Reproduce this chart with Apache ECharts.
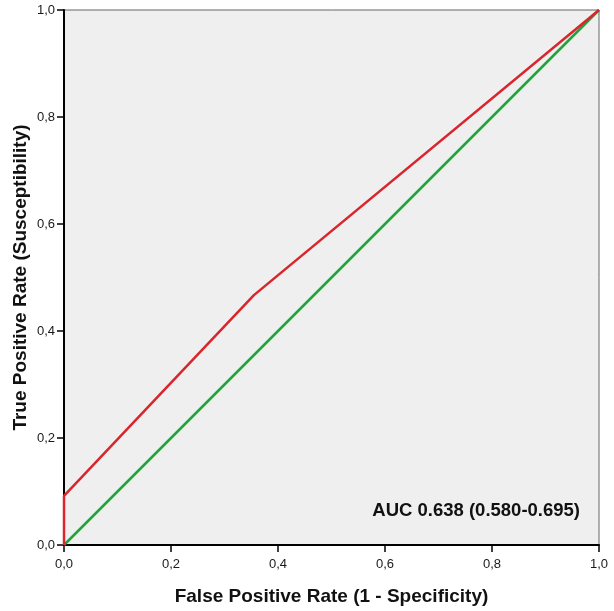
<!DOCTYPE html>
<html>
<head>
<meta charset="utf-8">
<script src="https://cdn.jsdelivr.net/npm/echarts@6/dist/echarts.min.js"></script>
<style>
  html, body { margin: 0; padding: 0; background: #fff; }
  #chart { width: 614px; height: 611px; }
</style>
</head>
<body>
<div id="chart"></div>
<script>
// ROC curve points (FPR, TPR)
const rocFpr = [0, 0, 0.355, 1];
const rocTpr = [0, 0.092, 0.467, 1];
// reference diagonal
const refFpr = [0, 1];
const refTpr = [0, 1];
const aucText = 'AUC 0.638 (0.580-0.695)';

const chart = echarts.init(document.getElementById('chart'));
const fmt = v => v.toFixed(1).replace('.', ',');
const font = 'Liberation Sans, Arial, sans-serif';

const option = {
  animation: false,
  grid: {
    left: 64, top: 10, width: 535, height: 535,
    outerBoundsMode: 'none', containLabel: false,
    show: true, backgroundColor: '#efefef', borderColor: '#666', borderWidth: 1
  },
  xAxis: {
    type: 'value', min: 0, max: 1, interval: 0.2,
    name: 'False Positive Rate (1 - Specificity)',
    nameLocation: 'middle', nameGap: 42,
    nameTextStyle: { fontFamily: font, fontSize: 19, fontWeight: 'bold', color: '#111' },
    axisLine: { show: true, onZero: false, lineStyle: { color: '#000', width: 2 } },
    axisTick: { show: true, inside: false, length: 7, lineStyle: { color: '#000', width: 1.5 } },
    axisLabel: { inside: false, formatter: fmt, fontFamily: font, fontSize: 13, color: '#1a1a1a', margin: 13 },
    splitLine: { show: false }
  },
  yAxis: {
    type: 'value', min: 0, max: 1, interval: 0.2,
    name: 'True Positive Rate (Susceptibility)',
    nameLocation: 'middle', nameGap: 34, nameMoveOverlap: false,
    nameTextStyle: { fontFamily: font, fontSize: 19, fontWeight: 'bold', color: '#111' },
    axisLine: { show: true, onZero: false, lineStyle: { color: '#000', width: 2 } },
    axisTick: { show: true, inside: false, length: 7, lineStyle: { color: '#000', width: 1.5 } },
    axisLabel: { inside: false, formatter: fmt, fontFamily: font, fontSize: 13, color: '#1a1a1a', margin: 9 },
    splitLine: { show: false }
  },
  series: [
    {
      type: 'line',
      data: refFpr.map((x, i) => [x, refTpr[i]]),
      symbol: 'none',
      lineStyle: { color: '#1fa53a', width: 2.5 },
      z: 2
    },
    {
      type: 'line',
      data: rocFpr.map((x, i) => [x, rocTpr[i]]),
      symbol: 'none',
      lineStyle: { color: '#d8262c', width: 2.5 },
      z: 3
    }
  ],
  graphic: [{
    type: 'text',
    right: 34, top: 501,
    style: { text: aucText, fontFamily: font, fontSize: 18.5, fontWeight: 'bold', fill: '#111' }
  }]
};

chart.setOption(option);
</script>
</body>
</html>
